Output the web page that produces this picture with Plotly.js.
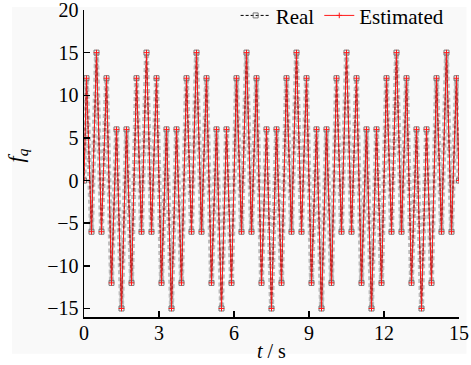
<!DOCTYPE html>
<html>
<head>
<meta charset="utf-8">
<script src="https://cdn.plot.ly/plotly-3.0.1.min.js"></script>
<style>
html,body{margin:0;padding:0;background:#fff;}
#chart{width:471px;height:365px;}
</style>
</head>
<body>
<div id="chart"></div>
<script>
// time samples (s) at the turning points
const time = [0,
  0.1,0.3,0.5,0.7,0.9,1.1,1.3,1.5,1.7,1.9,
  2.1,2.3,2.5,2.7,2.9,3.1,3.3,3.5,3.7,3.9,
  4.1,4.3,4.5,4.7,4.9,5.1,5.3,5.5,5.7,5.9,
  6.1,6.3,6.5,6.7,6.9,7.1,7.3,7.5,7.7,7.9,
  8.1,8.3,8.5,8.7,8.9,9.1,9.3,9.5,9.7,9.9,
  10.1,10.3,10.5,10.7,10.9,11.1,11.3,11.5,11.7,11.9,
  12.1,12.3,12.5,12.7,12.9,13.1,13.3,13.5,13.7,13.9,
  14.1,14.3,14.5,14.7,14.9,
  15];

// real f_q values
const realFq = [0,
  12,-6,15,-6,12,-12,6,-15,6,-12,
  12,-6,15,-6,12,-12,6,-15,6,-12,
  12,-6,15,-6,12,-12,6,-15,6,-12,
  12,-6,15,-6,12,-12,6,-15,6,-12,
  12,-6,15,-6,12,-12,6,-15,6,-12,
  12,-6,15,-6,12,-12,6,-15,6,-12,
  12,-6,15,-6,12,-12,6,-15,6,-12,
  12,-6,15,-6,12,
  0];

// estimated f_q values
const estFq = [0,
  12,-6,15,-6,12,-12,6,-15,6,-12,
  12,-6,15,-6,12,-12,6,-15,6,-12,
  12,-6,15,-6,12,-12,6,-15,6,-12,
  12,-6,15,-6,12,-12,6,-15,6,-12,
  12,-6,15,-6,12,-12,6,-15,6,-12,
  12,-6,15,-6,12,-12,6,-15,6,-12,
  12,-6,15,-6,12,-12,6,-15,6,-12,
  12,-6,15,-6,12,
  0];

const xTicks = [0,3,6,9,12,15];
const yTicks = [-15,-10,-5,0,5,10,15,20];
const yTickText = ['\u221215','\u221210','\u22125','0','5','10','15','20'];
const seriesNames = ['Real','Estimated'];
const xTitle = '<i>t</i> / s';
const yTitle = '<i>f</i><sub><i>q</i></sub>';

const FONT = 'Liberation Serif';

const traces = [
  { // marker texture of the real series
    x: time, y: realFq, type: 'scatter', mode: 'lines',
    line: {color: 'rgba(140,140,140,0.55)', width: 5, dash: '4px,3px'},
    showlegend: false, hoverinfo: 'skip'
  },
  {
    x: time, y: realFq, type: 'scatter', mode: 'lines+markers', name: seriesNames[0],
    line: {color: '#000', width: 1, dash: '3px,2px'},
    marker: {symbol: 'square-open', size: 5, color: '#777', line: {width: 1}}
  },
  {
    x: time, y: estFq, type: 'scatter', mode: 'lines+markers', name: seriesNames[1],
    line: {color: '#ff1a1a', width: 1},
    marker: {symbol: 'cross-thin-open', size: 4, color: '#ff1a1a', line: {width: 1, color: '#ff1a1a'}}
  }
];

const layout = {
  width: 471, height: 365,
  margin: {l: 84, r: 11.5, t: 9.8, b: 47.7, pad: 0, autoexpand: false},
  paper_bgcolor: '#fff',
  plot_bgcolor: 'rgba(0,0,0,0)',
  font: {family: FONT, size: 20, color: '#000'},
  showlegend: true,
  legend: {
    orientation: 'h', x: 0.975, xanchor: 'right', y: 1.048, yanchor: 'top',
    bgcolor: 'rgba(0,0,0,0)', font: {family: FONT, size: 21, color: '#000'},
    traceorder: 'normal', itemwidth: 30, tracegroupgap: 0
  },
  shapes: [{
    type: 'rect', xref: 'paper', yref: 'paper', layer: 'below',
    x0: -0.192, x1: 1.02, y0: -0.12, y1: 1.01,
    fillcolor: '#f9f9f9', line: {width: 0}
  }],
  annotations: [
    {text: xTitle, xref: 'paper', yref: 'paper', x: 0.5, y: -0.11,
     xanchor: 'center', yanchor: 'middle', showarrow: false,
     font: {family: FONT, size: 20, color: '#000'}},
    {text: yTitle, xref: 'paper', yref: 'paper', x: -0.178, y: 0.527,
     xanchor: 'center', yanchor: 'middle', showarrow: false, textangle: -90,
     font: {family: FONT, size: 22, color: '#000'}}
  ],
  xaxis: {
    range: [0, 15], tickvals: xTicks, ticktext: xTicks.map(String),
    ticks: 'inside', ticklen: 6, tickwidth: 1.5, tickcolor: '#000',
    showline: true, linewidth: 1.5, linecolor: '#000',
    showgrid: false, zeroline: false, mirror: false,
    ticklabelstandoff: -3, ticklabeloverflow: 'allow',
    tickfont: {family: FONT, size: 20, color: '#000'}
  },
  yaxis: {
    range: [-16, 20], tickvals: yTicks, ticktext: yTickText,
    ticks: 'inside', ticklen: 6, tickwidth: 1.5, tickcolor: '#000',
    showline: true, linewidth: 1.5, linecolor: '#000',
    showgrid: false, zeroline: false, mirror: false,
    ticklabeloverflow: 'allow',
    tickfont: {family: FONT, size: 20, color: '#000'}
  }
};

Plotly.newPlot('chart', traces, layout, {displayModeBar: false, staticPlot: true});
</script>
</body>
</html>
